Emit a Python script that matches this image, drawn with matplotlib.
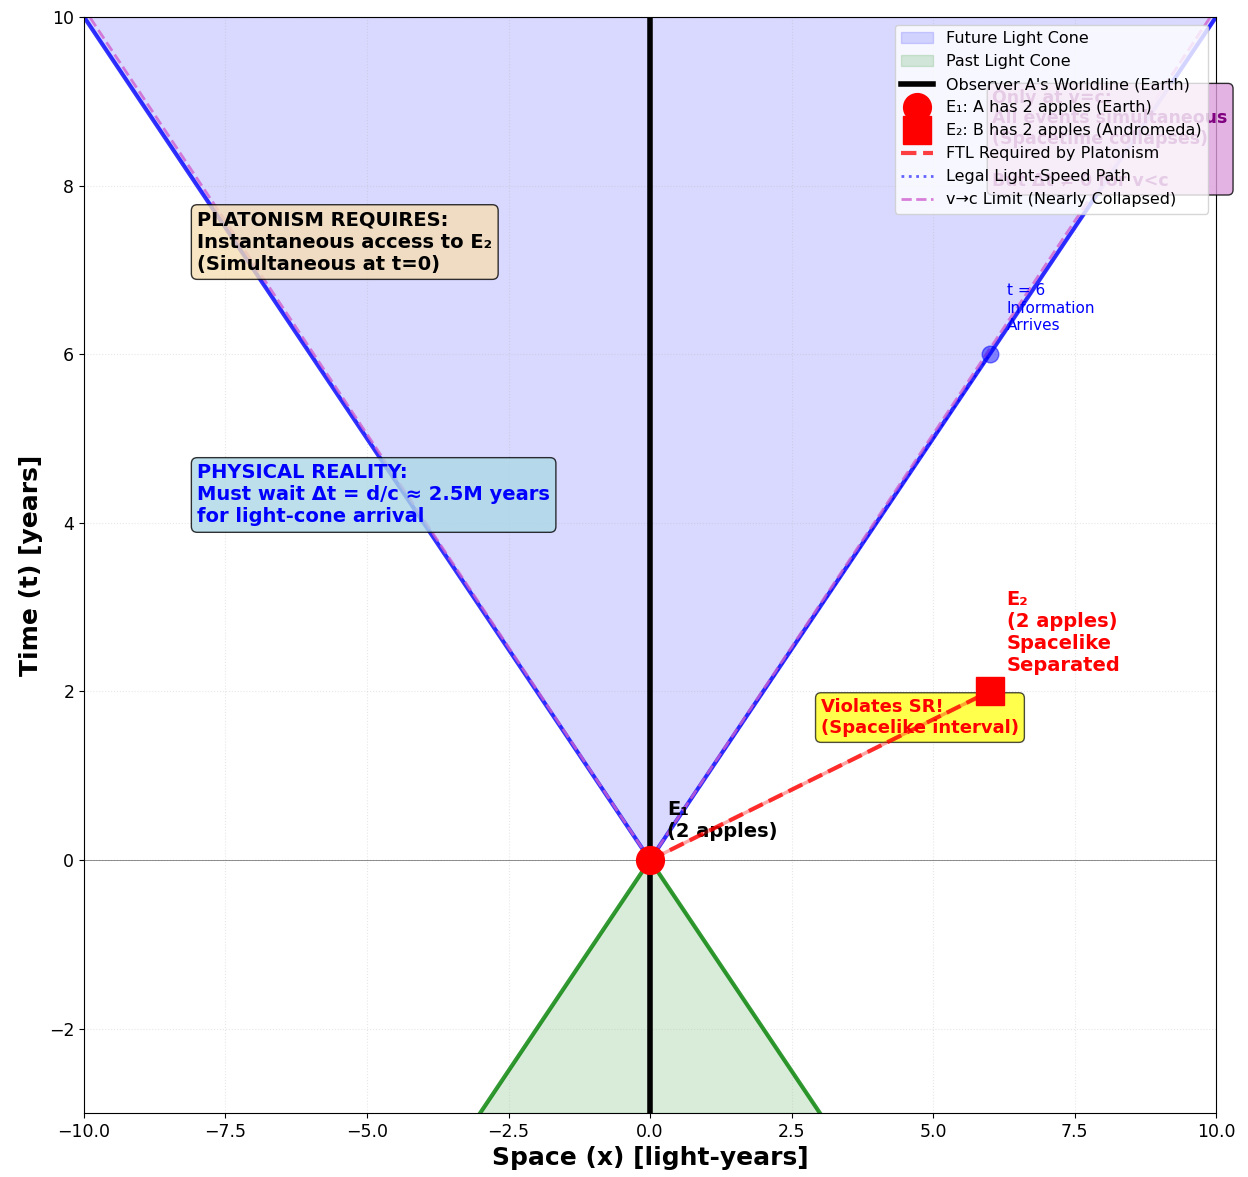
import numpy as np
import matplotlib.pyplot as plt

# spacetime extents (light-years / years)
x_range = [-10, 10]
t_range = [-3, 10]
past_depth = 3

# events
e1 = (0, 0)
e2 = (6, 2)
arrival = (6, 6)
v_limit = 0.99

legend_labels = [
    "Future Light Cone",
    "Past Light Cone",
    "Observer A's Worldline (Earth)",
    "E\u2081: A has 2 apples (Earth)",
    "E\u2082: B has 2 apples (Andromeda)",
    "FTL Required by Platonism",
    "Legal Light-Speed Path",
    "v\u2192c Limit (Nearly Collapsed)",
]

fig, ax = plt.subplots(figsize=(12.48, 11.77), dpi=100)
fig.subplots_adjust(left=0.0673, right=0.9744, top=0.9856, bottom=0.0544)

# light cones
xs = np.linspace(x_range[0], x_range[1], 401)
ax.fill_between(xs, np.abs(xs), t_range[1], color="blue", alpha=0.15, label=legend_labels[0])
xp = np.linspace(-past_depth, past_depth, 201)
ax.fill_between(xp, -np.abs(xp), -past_depth, color="green", alpha=0.15, label=legend_labels[1])

ax.plot([x_range[0], 0, x_range[1]], [t_range[1], 0, t_range[1]], color="blue", lw=3, alpha=0.8)
ax.plot([-past_depth, 0, past_depth], [-past_depth, 0, -past_depth], color="green", lw=3, alpha=0.8)

# worldline
ax.plot([0, 0], t_range, color="black", lw=4, label=legend_labels[2])
ax.axhline(0, color="black", lw=0.6, alpha=0.5)

# events
ax.plot(*e1, "o", color="red", ms=20, zorder=6, label=legend_labels[3])
ax.plot(*e2, "s", color="red", ms=20, zorder=6, label=legend_labels[4])

# paths (FTL line drawn above the warning box)
ax.plot([e1[0], e2[0]], [e1[1], e2[1]], "-", color="red", lw=2.5, alpha=0.35, zorder=4)
ax.plot([e1[0], e2[0]], [e1[1], e2[1]], "--", color="red", lw=3, alpha=0.75, zorder=4,
        label=legend_labels[5])
ax.plot([e1[0], arrival[0]], [e1[1], arrival[1]], ":", color="blue", lw=2, alpha=0.6, label=legend_labels[6])
tv = np.array([0, t_range[1]])
ax.plot(-v_limit * tv, tv, "--", color="#d060d0", lw=2, alpha=0.8, label=legend_labels[7])
ax.plot(v_limit * tv, tv, "--", color="#d060d0", lw=2, alpha=0.8)

ax.plot(*arrival, "o", color="blue", ms=12, alpha=0.5)

# labels
ax.text(0.3, 0.22, "E\u2081\n(2 apples)", fontsize=14, fontweight="bold", ha="left", va="bottom")
ax.text(6.3, 2.2, "E\u2082\n(2 apples)\nSpacelike\nSeparated", fontsize=14,
        fontweight="bold", color="red", ha="left", va="bottom")
ax.text(6.3, 6.25, "t = 6\nInformation\nArrives", fontsize=11, color="blue", ha="left", va="bottom")

ax.text(3.02, 1.69, "Violates SR!\n(Spacelike interval)", fontsize=13, fontweight="bold",
        color="red", ha="left", va="center",
        bbox=dict(boxstyle="round,pad=0.3", facecolor="yellow", alpha=0.7))
ax.text(-8.0, 7.33, "PLATONISM REQUIRES:\nInstantaneous access to E\u2082\n(Simultaneous at t=0)",
        fontsize=14, fontweight="bold", ha="left", va="center",
        bbox=dict(boxstyle="round,pad=0.3", facecolor="wheat", alpha=0.8))
ax.text(-8.0, 4.33, "PHYSICAL REALITY:\nMust wait \u0394t = d/c \u2248 2.5M years\nfor light-cone arrival",
        fontsize=14, fontweight="bold", color="blue", ha="left", va="center",
        bbox=dict(boxstyle="round,pad=0.3", facecolor="lightblue", alpha=0.8))
ax.text(6.05, 8.55, "Only at v=c:\nAll events simultaneous\n(Spacetime collapses)\n\nBut \u0394t \u2260 0 for v<c",
        fontsize=12.5, fontweight="bold", color="purple", ha="left", va="center",
        bbox=dict(boxstyle="round,pad=0.3", facecolor="plum", alpha=0.8))

ax.set_xlim(x_range)
ax.set_ylim(t_range)
ax.set_xlabel("Space (x) [light-years]", fontsize=18, fontweight="bold")
ax.set_ylabel("Time (t) [years]", fontsize=18, fontweight="bold")
ax.tick_params(labelsize=12.5)
ax.grid(True, linestyle=":", alpha=0.3)
ax.legend(loc="upper right", fontsize=11.5)

fig.savefig("out.png", dpi=100)
